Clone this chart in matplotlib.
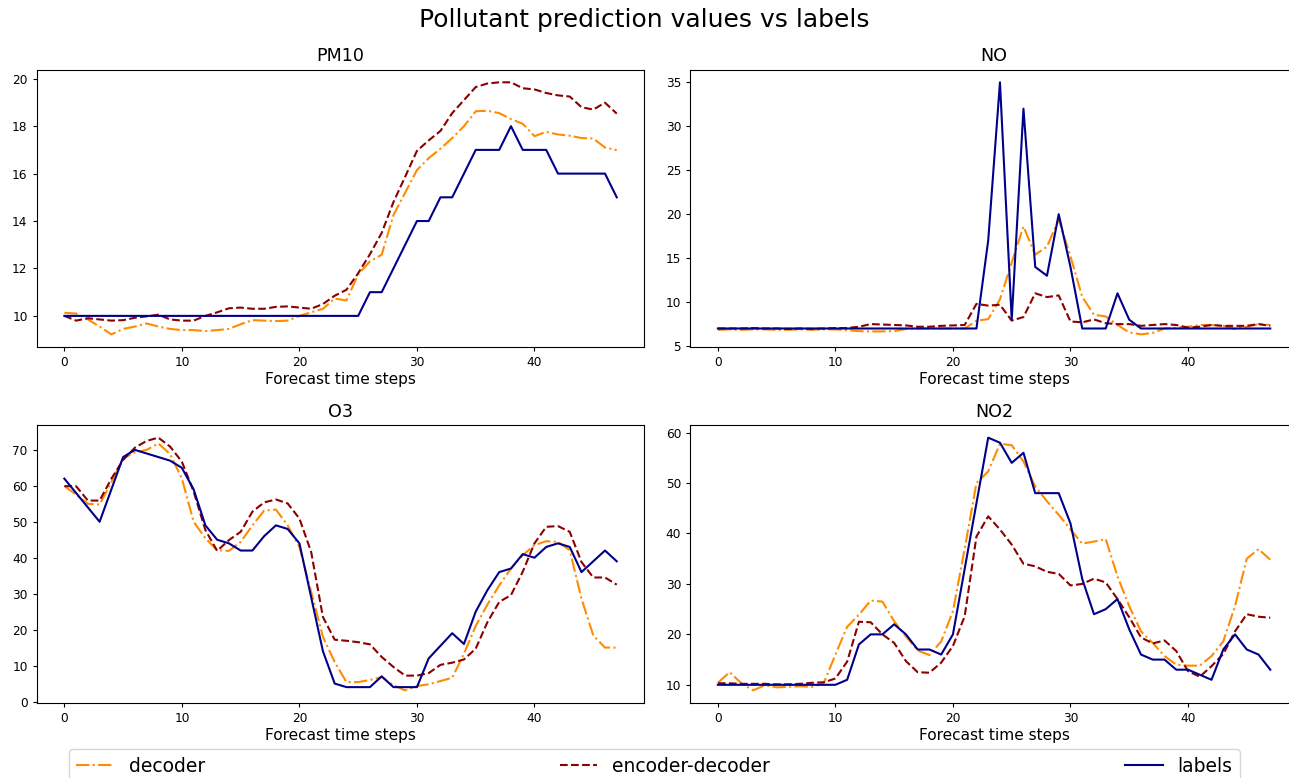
import matplotlib
matplotlib.use("Agg")
import matplotlib.pyplot as plt
import numpy as np

steps = np.arange(48)

pm10_labels = [10] * 26 + [11, 11, 12, 13, 14, 14, 15, 15, 16, 17, 17, 17, 18, 17, 17, 17,
                           16, 16, 16, 16, 16, 15]
pm10_decoder = [10.13, 10.1, 9.85, 9.55, 9.22, 9.45, 9.55, 9.68, 9.55, 9.45,
                9.4, 9.4, 9.36, 9.4, 9.45, 9.65, 9.82, 9.8, 9.78, 9.8,
                10.0, 10.15, 10.3, 10.73, 10.65, 11.75, 12.3, 12.58, 14.25, 15.2,
                16.15, 16.65, 17.05, 17.5, 18.0, 18.63, 18.65, 18.55, 18.3, 18.1,
                17.58, 17.76, 17.65, 17.6, 17.5, 17.48, 17.1, 16.99]
pm10_encdec = [10.0, 9.8, 9.9, 9.85, 9.8, 9.82, 9.92, 9.98, 10.05, 9.85,
               9.8, 9.8, 10.0, 10.15, 10.32, 10.35, 10.3, 10.3, 10.38, 10.4,
               10.35, 10.3, 10.5, 10.85, 11.1, 11.8, 12.6, 13.5, 14.8, 15.87,
               16.96, 17.4, 17.8, 18.55, 19.1, 19.65, 19.8, 19.85, 19.85, 19.6,
               19.55, 19.4, 19.3, 19.25, 18.8, 18.7, 18.99, 18.53]

no_labels = [7] * 23 + [17, 35, 8, 32, 14, 13, 20, 14, 7, 7, 7, 11, 8] + [7] * 12
no_decoder = [6.85, 6.9, 6.85, 6.9, 6.9, 6.85, 6.85, 6.9, 6.85, 6.9,
              6.9, 6.8, 6.7, 6.67, 6.67, 6.7, 6.95, 7.0, 7.0, 7.0,
              7.0, 7.0, 7.88, 8.07, 10.3, 14.5, 18.6, 15.4, 16.3, 19.4,
              15.2, 10.6, 8.56, 8.37, 7.4, 6.55, 6.33, 6.5, 7.0, 7.1,
              7.2, 7.4, 7.4, 7.3, 6.93, 7.2, 7.5, 7.4]
no_encdec = [7.0, 7.0, 7.0, 7.05, 7.0, 7.0, 6.95, 7.0, 6.95, 7.0,
             7.05, 7.05, 7.2, 7.5, 7.45, 7.4, 7.35, 7.2, 7.2, 7.3,
             7.35, 7.4, 9.8, 9.6, 9.7, 7.9, 8.3, 11.0, 10.57, 10.76,
             7.8, 7.7, 8.03, 7.6, 7.5, 7.5, 7.3, 7.4, 7.5, 7.4,
             7.1, 7.2, 7.4, 7.3, 7.3, 7.3, 7.5, 7.3]

o3_labels = [62, 58, 54, 50, 59, 68, 70, 69, 68, 67,
             65, 59, 49, 45, 44, 42, 42, 46, 49, 48,
             44, 29, 14, 5, 4, 4, 4, 7, 4, 4,
             4, 12, 15.5, 19, 16, 25, 31, 36, 37, 41,
             40, 43, 44, 43, 36, 39, 42, 39]
o3_decoder = [60, 57.5, 55, 54.8, 61, 67.7, 69.3, 70, 71.8, 68.8,
              62, 50, 45.4, 42.1, 41.9, 44.4, 49, 53.1, 53.4, 49,
              43, 30.5, 18, 11, 5.4, 5.4, 6.0, 6.8, 4.5, 3.1,
              4.3, 4.8, 5.7, 6.6, 13.3, 21, 27, 32.3, 37, 40.7,
              43.5, 44.6, 44.4, 42.1, 28.6, 18.4, 15, 15]
o3_encdec = [59.9, 59.9, 55.9, 55.9, 62, 67.2, 70.6, 72.5, 73.4, 70.9,
             66.7, 58.4, 47.7, 41.9, 44.9, 47.2, 52.8, 55.4, 56.2, 55.1,
             50.9, 41.6, 23.5, 17.2, 16.9, 16.5, 15.9, 12.4, 9.6, 7.2,
             7.2, 7.9, 10.2, 10.8, 11.7, 14.7, 22.1, 27.7, 29.6, 36.1,
             44, 48.6, 48.8, 47.2, 38.8, 34.5, 34.5, 32.5]

no2_labels = [10] * 11 + [11, 18, 20, 20, 22, 20, 17, 17, 16, 20, 33, 46, 59, 58, 54, 56,
                          48, 48, 48, 42, 31, 24, 25, 27, 21, 16, 15, 15, 13, 13, 12, 11,
                          17, 20, 17, 16, 13]
no2_decoder = [10.4, 12.5, 10.3, 8.9, 9.9, 9.5, 9.6, 9.7, 9.6, 10.3,
               16, 21.5, 23.9, 26.7, 26.5, 22.6, 19.6, 16.8, 15.9, 18.6,
               24.6, 37, 50, 52.3, 57.8, 57.5, 54.3, 49.3, 46.4, 43.7,
               40.8, 38, 38.4, 38.9, 31.5, 25.6, 20.6, 18.3, 15.7, 14,
               13.8, 13.8, 15.7, 18.6, 25.6, 35, 36.9, 34.8]
no2_encdec = [10.3, 10.3, 10.2, 10.2, 10.2, 10.1, 10.1, 10.2, 10.4, 10.5,
              11.25, 14.6, 22.5, 22.4, 20, 18.3, 14.7, 12.5, 12.4, 14.4,
              17.7, 23.6, 39.4, 43.4, 40.8, 37.8, 34, 33.5, 32.4, 32,
              29.7, 30, 31.05, 30.3, 27, 23.4, 19.4, 18.2, 18.8, 16.7,
              12.7, 11.6, 13.7, 16.1, 20.6, 24, 23.5, 23.3]

panels = [
    ("PM10", pm10_decoder, pm10_encdec, pm10_labels),
    ("NO", no_decoder, no_encdec, no_labels),
    ("O3", o3_decoder, o3_encdec, o3_labels),
    ("NO2", no2_decoder, no2_encdec, no2_labels),
]

# posiciones de los ejes (fraccion de figura)
positions = [
    [0.0285, 0.554, 0.4714, 0.3564],
    [0.5355, 0.554, 0.4714, 0.3564],
    [0.0285, 0.0964, 0.4714, 0.3573],
    [0.5355, 0.0964, 0.4714, 0.3573],
]

fig, axes = plt.subplots(2, 2, figsize=(12.89, 7.78), dpi=100)
for ax, pos, (name, dec, encdec, lab) in zip(axes.flat, positions, panels):
    ax.set_position(pos)
    ax.plot(steps, dec, color="darkorange", linestyle="-.", linewidth=1.5, label="decoder")
    ax.plot(steps, encdec, color="darkred", linestyle="--", linewidth=1.5, label="encoder-decoder")
    ax.plot(steps, lab, color="darkblue", linestyle="-", linewidth=1.5, label="labels")
    ax.set_title(name, fontsize=12.6)
    ax.set_xlabel("Forecast time steps", fontsize=11.1, labelpad=2)
    ax.tick_params(labelsize=8.7, length=3.1)
    ax.set_xticks([0, 10, 20, 30, 40])

fig.suptitle("Pollutant prediction values vs labels", fontsize=18, y=0.99)

handles, labels = axes[0, 0].get_legend_handles_labels()
fig.legend(handles, labels, loc="upper left", ncol=3, mode="expand",
           bbox_to_anchor=(0.0535, 0.0369, 0.9085, 0.0), borderaxespad=0,
           fontsize=13.5)

fig.savefig("out.png", dpi=100)
